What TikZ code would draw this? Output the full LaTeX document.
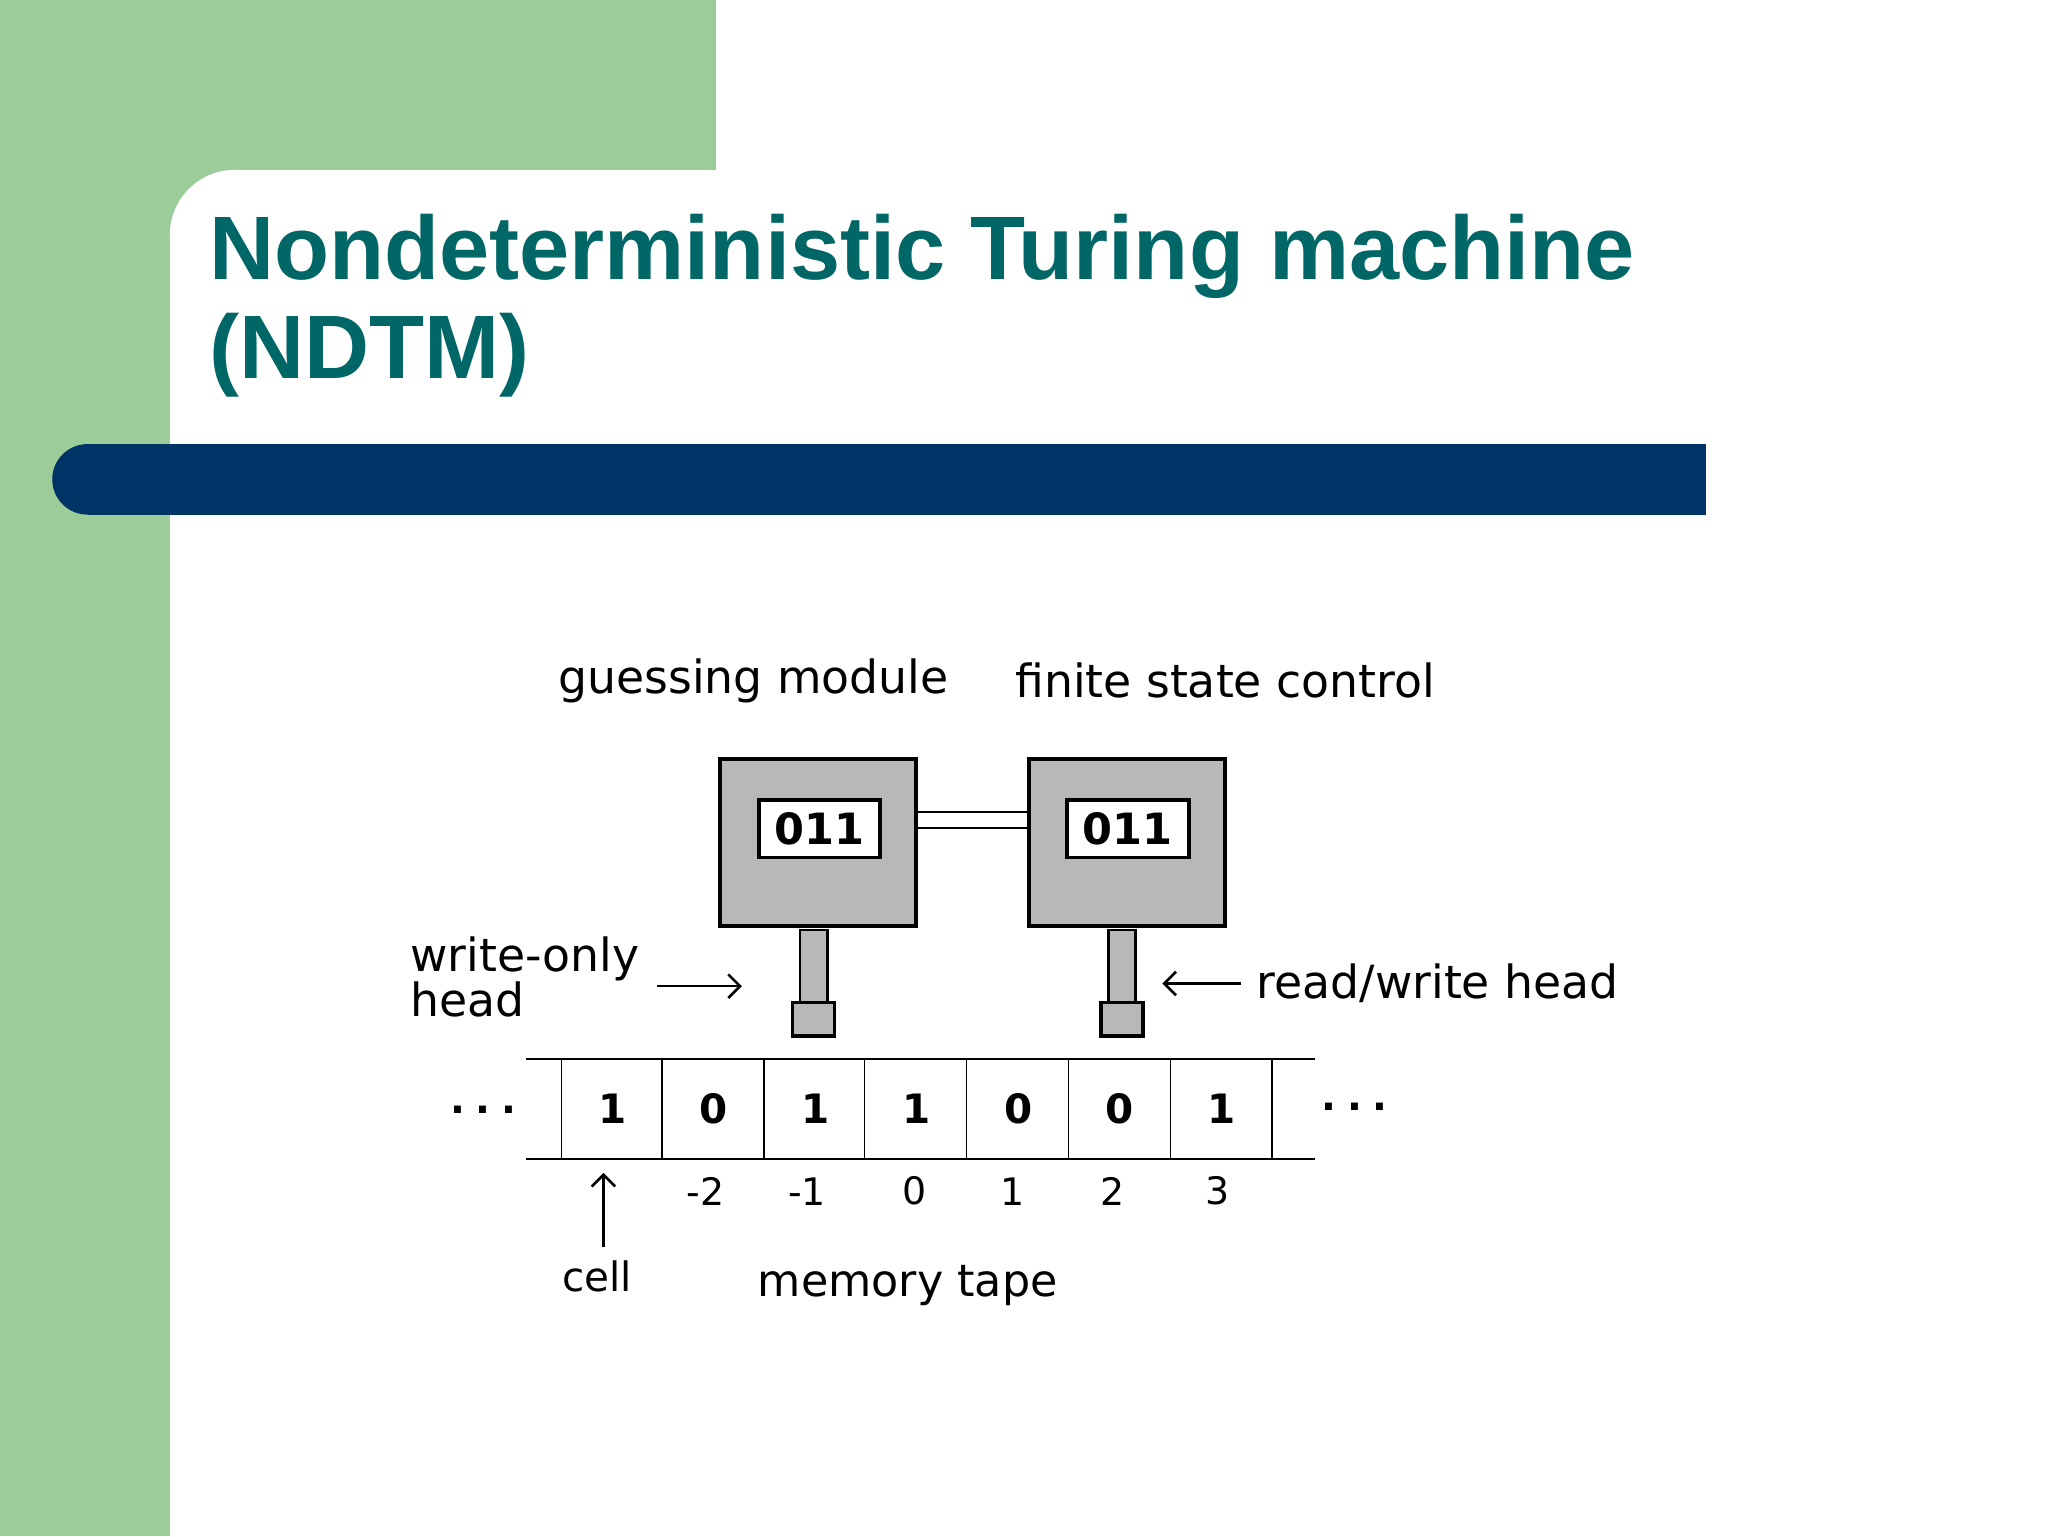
\documentclass[tikz,border=0pt]{standalone}
\usepackage{fontspec}
\setmainfont{DejaVu Sans}
\newfontfamily\titlefont{Liberation Sans}
\begin{document}
\begin{tikzpicture}[x=1pt,y=-1pt,
  lbl/.style={inner sep=0pt,font=\fontsize{35}{34}\selectfont},
  dig/.style={inner sep=0pt,font=\fontsize{31}{34}\selectfont\bfseries},
  idx/.style={inner sep=0pt,font=\fontsize{29}{32}\selectfont},
  grey/.style={fill=black!28,draw=black,line width=3pt},
  arr/.style={->,line width=2pt,>={Straight Barb[length=9pt,width=18pt]}}]
\usetikzlibrary{arrows.meta}
\useasboundingbox (0,0) rectangle (1568,1176);
\definecolor{gr}{HTML}{9CCC9A}\definecolor{tt}{HTML}{006666}\definecolor{nv}{HTML}{003366}
\fill[gr] (0,0) rectangle (548,130);
\fill[gr] (0,0) rectangle (130,1176);
\fill[white] (130,130) rectangle (548,1176);
\fill[gr] (130,130) rectangle (180,180);
\fill[white] (180,180) circle[radius=50];
\node[anchor=base west,inner sep=0pt,align=left,text=tt,font=\titlefont\fontsize{69}{76}\selectfont\bfseries] (title) at (160,290) {Nondeterministic Turing machine\\(NDTM)};
\fill[nv] (67,340) rectangle (1306,394);
\fill[nv] (67,367) circle[radius=27];
% boxes
\node[grey,minimum width=150,minimum height=128,inner sep=0pt] (gm) at (626.5,645) {};
\node[grey,minimum width=150,minimum height=128,inner sep=0pt] (fsc) at (863,645) {};
\node[draw=black,line width=3pt,fill=white,minimum width=93,minimum height=44,inner sep=0pt,font=\fontsize{33}{36}\selectfont\bfseries] (gmr) at (627.5,634.5) {011};
\node[draw=black,line width=3pt,fill=white,minimum width=93,minimum height=44,inner sep=0pt,font=\fontsize{33}{36}\selectfont\bfseries] (fscr) at (863.5,634.5) {011};
\draw[line width=1.5pt] (gm.east|-0,622) -- (fsc.west|-0,622) (gm.east|-0,634) -- (fsc.west|-0,634);
\node[fill=black!28,draw=black,line width=2pt,minimum width=21,minimum height=56,inner sep=0pt,anchor=north] (gs) at (623,711) {};
\node[fill=black!28,draw=black,line width=2.5pt,minimum width=32,minimum height=26,inner sep=0pt,anchor=north] (gf) at (623,766) {};
\node[fill=black!28,draw=black,line width=2pt,minimum width=21,minimum height=56,inner sep=0pt,anchor=north] (fs) at (859,711) {};
\node[fill=black!28,draw=black,line width=2.5pt,minimum width=32,minimum height=26,inner sep=0pt,anchor=north] (ff) at (859,766) {};
% labels
\node[lbl] (lgm) at (577,521) {guessing module};
\node[lbl] (lfsc) at (938,521) {finite state control};
\node[lbl,anchor=west,align=left] (lwo) at (314,748) {write-only\\head};
\coordinate (wa) at (503,755); \coordinate (wb) at (568,755);
\draw[arr] (wa) -- (wb);
\node[lbl,anchor=west] (lrw) at (962,753) {read/write head};
\draw[arr] (lrw.west) ++(-12,0) coordinate (ra) -- (890,753) coordinate (rb);
% tape
\draw[line width=1.5pt] (403,811) -- (1007,811) (403,887) -- (1007,887);
\foreach \x in {430,507,585,662,740,818,896,974} \draw[line width=1.2pt] (\x,811) -- (\x,887);
\foreach \d [count=\i] in {1,0,1,1,0,0,1} {
  \pgfmathsetmacro\cx{430+77.7*(\i-0.5)}
  \node[dig] (c\i) at (\cx,849) {\d};}
\node[dig,font=\fontsize{30}{30}\selectfont\bfseries] (dl) at (370,850) {.\hspace{8pt}.\hspace{8pt}.};
\node[dig,font=\fontsize{30}{30}\selectfont\bfseries] (dr) at (1037,847) {.\hspace{8pt}.\hspace{8pt}.};
\foreach \t/\x in {-2/540,-1/618,0/700,1/775,2/852,3/932} \node[idx] at (\x,912) {\t};
\node[lbl,font=\fontsize{31}{30}\selectfont] (cell) at (457,977) {cell};
\coordinate (ca) at (462,955); \coordinate (cb) at (462,898);
\draw[arr] (ca) -- (cb);
\node[lbl,font=\fontsize{34}{30}\selectfont] (mt) at (695,984) {memory tape};
\end{tikzpicture}
\end{document}
